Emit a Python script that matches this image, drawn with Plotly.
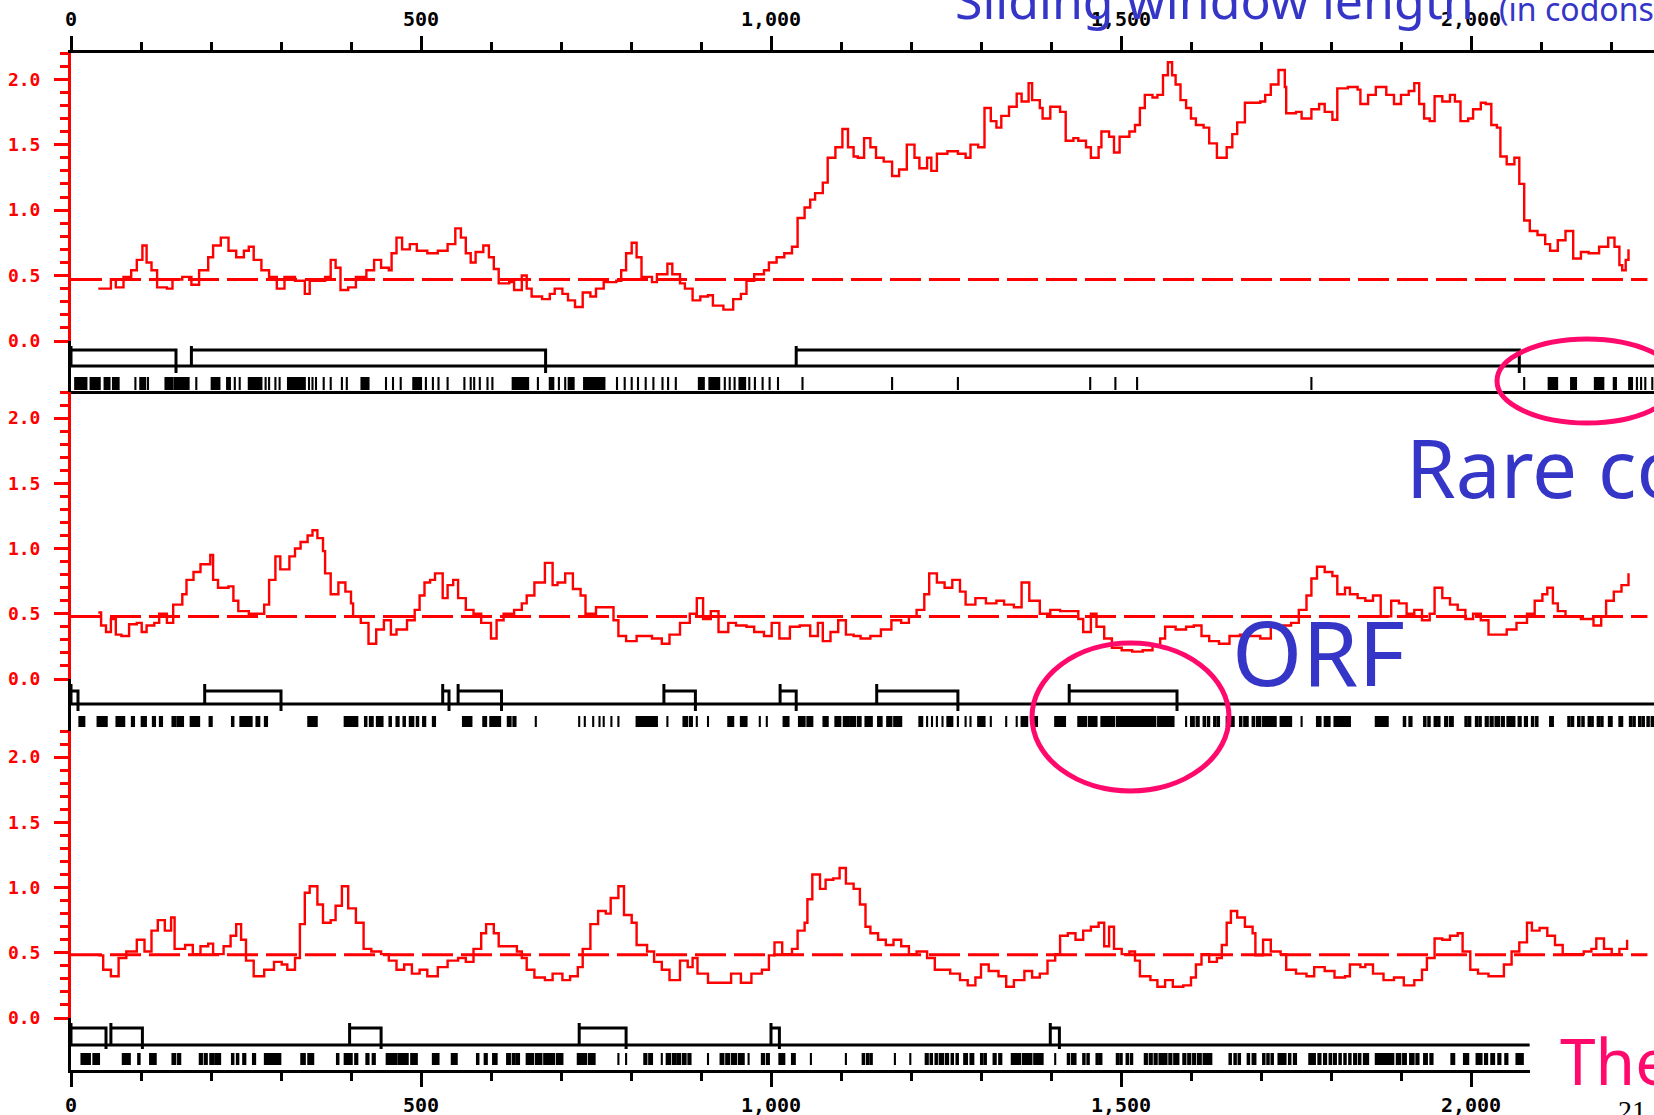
import plotly.graph_objects as go

W, H = 1654, 1115

# ---------------------------------------------------------------
# Sliding-window rare-codon profiles (codon position, value)
# ---------------------------------------------------------------
p1_pos = [39, 57, 64, 75, 86, 94, 102, 108, 115, 123, 137, 145, 159, 172, 183, 196, 203, 214, 225, 236,
          247, 254, 261, 272, 283, 294, 305, 320, 334, 341, 363, 371, 378, 385, 396, 407, 422, 433, 443, 454,
          458, 465, 473, 484, 494, 509, 524, 538, 549, 557, 564, 571, 578, 589, 597, 604, 611, 626, 633, 644,
          651, 658, 673, 684, 691, 702, 710, 720, 731, 742, 750, 761, 779, 786, 793, 801, 808, 815, 830, 837,
          852, 859, 870, 877, 888, 899, 910, 917, 932, 946, 957, 965, 976, 990, 997, 1008, 1019, 1030, 1038, 1048,
          1056, 1063, 1074, 1081, 1092, 1102, 1110, 1118, 1124, 1133, 1142, 1150, 1161, 1173, 1183, 1194, 1205, 1212, 1223, 1229,
          1237, 1252, 1267, 1278, 1285, 1296, 1305, 1314, 1322, 1329, 1340, 1351, 1358, 1368, 1373, 1384, 1388, 1399, 1413, 1421,
          1432, 1439, 1450, 1457, 1468, 1472, 1483, 1490, 1498, 1512, 1520, 1527, 1534, 1545, 1552, 1560, 1567, 1573, 1578, 1585,
          1593, 1600, 1607, 1618, 1626, 1637, 1651, 1659, 1666, 1677, 1699, 1706, 1714, 1725, 1734, 1736, 1750, 1758, 1772, 1783,
          1791, 1802, 1809, 1824, 1838, 1842, 1853, 1864, 1879, 1890, 1900, 1911, 1919, 1926, 1933, 1941, 1948, 1959, 1970, 1977,
          1985, 1996, 2003, 2014, 2021, 2029, 2037, 2042, 2051, 2062, 2069, 2076, 2084, 2095, 2106, 2113, 2124, 2135, 2146, 2157,
          2168, 2183, 2196, 2205, 2212, 2216, 2221, 2225]
p1_val = [0.40, 0.47, 0.41, 0.49, 0.54, 0.62, 0.73, 0.60, 0.54, 0.41, 0.40, 0.47, 0.49, 0.43, 0.54, 0.64, 0.73, 0.79, 0.69, 0.64,
          0.69, 0.72, 0.62, 0.54, 0.49, 0.40, 0.49, 0.46, 0.36, 0.46, 0.49, 0.62, 0.56, 0.39, 0.41, 0.49, 0.54, 0.62, 0.56, 0.54,
          0.67, 0.79, 0.70, 0.74, 0.69, 0.67, 0.69, 0.74, 0.86, 0.79, 0.67, 0.60, 0.68, 0.73, 0.64, 0.55, 0.44, 0.45, 0.39, 0.50,
          0.40, 0.34, 0.32, 0.36, 0.40, 0.36, 0.31, 0.26, 0.37, 0.34, 0.40, 0.45, 0.46, 0.54, 0.67, 0.75, 0.64, 0.49, 0.45, 0.51,
          0.59, 0.51, 0.44, 0.40, 0.31, 0.34, 0.35, 0.27, 0.24, 0.32, 0.36, 0.46, 0.51, 0.54, 0.60, 0.64, 0.67, 0.72, 0.94, 1.02,
          1.08, 1.13, 1.21, 1.40, 1.48, 1.62, 1.48, 1.41, 1.40, 1.55, 1.48, 1.40, 1.37, 1.26, 1.31, 1.50, 1.40, 1.32, 1.40, 1.30,
          1.43, 1.45, 1.43, 1.40, 1.50, 1.48, 1.78, 1.68, 1.63, 1.72, 1.79, 1.89, 1.83, 1.97, 1.84, 1.78, 1.70, 1.79, 1.75, 1.53,
          1.55, 1.53, 1.48, 1.40, 1.48, 1.60, 1.56, 1.44, 1.56, 1.60, 1.65, 1.78, 1.88, 1.86, 1.88, 2.03, 2.13, 2.03, 1.96, 1.84,
          1.78, 1.70, 1.65, 1.63, 1.51, 1.40, 1.48, 1.58, 1.67, 1.82, 1.83, 1.88, 1.96, 2.07, 1.94, 1.74, 1.75, 1.70, 1.77, 1.81,
          1.75, 1.69, 1.93, 1.94, 1.92, 1.81, 1.88, 1.94, 1.88, 1.81, 1.88, 1.91, 1.97, 1.81, 1.70, 1.68, 1.87, 1.83, 1.88, 1.83,
          1.68, 1.70, 1.77, 1.82, 1.81, 1.65, 1.63, 1.41, 1.35, 1.40, 1.20, 0.92, 0.84, 0.81, 0.74, 0.69, 0.77, 0.84, 0.63, 0.68,
          0.67, 0.72, 0.79, 0.72, 0.58, 0.54, 0.62, 0.70]

p2_pos = [39, 43, 50, 57, 64, 72, 83, 94, 101, 108, 119, 126, 137, 146, 159, 165, 175, 185, 199, 203,
          210, 225, 232, 239, 254, 269, 276, 283, 292, 299, 312, 320, 328, 338, 345, 352, 360, 363, 371, 382,
          392, 400, 403, 414, 425, 436, 447, 457, 465, 480, 491, 498, 505, 513, 520, 531, 538, 546, 553, 564,
          575, 586, 600, 608, 618, 633, 644, 651, 662, 677, 688, 695, 706, 717, 728, 735, 750, 764, 775, 782,
          793, 808, 830, 844, 855, 870, 884, 894, 903, 914, 925, 939, 950, 965, 976, 990, 1001, 1012, 1027, 1041,
          1056, 1067, 1074, 1085, 1096, 1107, 1118, 1128, 1142, 1157, 1172, 1186, 1197, 1208, 1219, 1226, 1237, 1248, 1259, 1270,
          1278, 1292, 1307, 1322, 1333, 1347, 1358, 1369, 1384, 1399, 1413, 1428, 1439, 1446, 1457, 1465, 1476, 1487, 1501, 1516,
          1531, 1545, 1556, 1563, 1578, 1593, 1604, 1615, 1626, 1640, 1655, 1670, 1684, 1699, 1714, 1732, 1743, 1754, 1765, 1772,
          1780, 1791, 1802, 1809, 1820, 1827, 1838, 1849, 1860, 1871, 1886, 1897, 1908, 1919, 1930, 1941, 1948, 1959, 1970, 1981,
          1992, 2003, 2014, 2025, 2040, 2051, 2065, 2080, 2091, 2102, 2109, 2117, 2124, 2135, 2146, 2157, 2168, 2175, 2186, 2193,
          2204, 2215, 2225]
p2_val = [0.51, 0.41, 0.36, 0.46, 0.34, 0.33, 0.42, 0.43, 0.36, 0.41, 0.43, 0.50, 0.43, 0.57, 0.65, 0.76, 0.82, 0.88, 0.95, 0.76,
          0.70, 0.71, 0.60, 0.52, 0.50, 0.50, 0.57, 0.76, 0.94, 0.84, 0.94, 1.00, 1.05, 1.10, 1.14, 1.08, 0.98, 0.81, 0.65, 0.74,
          0.67, 0.58, 0.48, 0.43, 0.27, 0.38, 0.45, 0.34, 0.38, 0.45, 0.53, 0.64, 0.74, 0.76, 0.81, 0.62, 0.72, 0.76, 0.62, 0.53,
          0.50, 0.43, 0.31, 0.45, 0.50, 0.53, 0.58, 0.64, 0.74, 0.89, 0.72, 0.74, 0.81, 0.69, 0.64, 0.50, 0.55, 0.55, 0.45, 0.33,
          0.29, 0.33, 0.31, 0.27, 0.34, 0.43, 0.50, 0.62, 0.46, 0.52, 0.36, 0.43, 0.41, 0.40, 0.36, 0.33, 0.43, 0.31, 0.40, 0.41,
          0.33, 0.43, 0.29, 0.36, 0.45, 0.34, 0.33, 0.31, 0.33, 0.38, 0.45, 0.43, 0.48, 0.53, 0.65, 0.81, 0.74, 0.70, 0.76, 0.67,
          0.57, 0.62, 0.58, 0.60, 0.57, 0.55, 0.74, 0.60, 0.50, 0.53, 0.52, 0.52, 0.46, 0.36, 0.50, 0.40, 0.31, 0.24, 0.22, 0.21,
          0.22, 0.26, 0.31, 0.40, 0.38, 0.40, 0.41, 0.33, 0.29, 0.27, 0.33, 0.34, 0.33, 0.31, 0.40, 0.41, 0.43, 0.53, 0.64, 0.77,
          0.86, 0.82, 0.79, 0.65, 0.70, 0.65, 0.62, 0.60, 0.64, 0.48, 0.60, 0.58, 0.50, 0.53, 0.45, 0.50, 0.70, 0.62, 0.57, 0.53,
          0.46, 0.50, 0.45, 0.34, 0.34, 0.38, 0.43, 0.50, 0.60, 0.65, 0.70, 0.58, 0.52, 0.48, 0.48, 0.46, 0.46, 0.41, 0.48, 0.60,
          0.67, 0.72, 0.81]

p3_pos = [39, 46, 57, 68, 79, 94, 105, 115, 124, 134, 143, 148, 163, 174, 185, 196, 203, 218, 228, 236,
          243, 250, 261, 276, 290, 301, 309, 320, 327, 334, 341, 352, 360, 371, 378, 387, 396, 407, 418, 429,
          443, 454, 465, 476, 487, 498, 509, 524, 538, 553, 564, 575, 586, 593, 604, 611, 626, 637, 644, 651,
          662, 677, 688, 702, 713, 724, 731, 742, 753, 764, 771, 782, 790, 801, 808, 823, 833, 844, 855, 870,
          881, 888, 895, 910, 928, 943, 957, 972, 987, 997, 1005, 1016, 1030, 1038, 1048, 1052, 1059, 1070, 1078, 1089,
          1098, 1107, 1118, 1127, 1135, 1142, 1153, 1164, 1175, 1186, 1197, 1208, 1223, 1234, 1245, 1256, 1270, 1281, 1292, 1300,
          1311, 1325, 1336, 1347, 1362, 1373, 1384, 1395, 1406, 1413, 1424, 1435, 1446, 1457, 1468, 1476, 1483, 1490, 1501, 1512,
          1520, 1527, 1542, 1552, 1563, 1574, 1589, 1600, 1607, 1615, 1626, 1637, 1644, 1651, 1657, 1666, 1677, 1688, 1692, 1703,
          1714, 1728, 1736, 1750, 1765, 1776, 1791, 1805, 1820, 1827, 1842, 1849, 1860, 1875, 1890, 1904, 1919, 1930, 1937, 1948,
          1959, 1970, 1981, 1988, 1999, 2010, 2025, 2040, 2047, 2058, 2069, 2080, 2087, 2098, 2109, 2120, 2131, 2146, 2161, 2172,
          2179, 2190, 2201, 2212, 2223]
p3_val = [0.48, 0.37, 0.32, 0.46, 0.51, 0.60, 0.51, 0.67, 0.75, 0.67, 0.77, 0.53, 0.56, 0.49, 0.55, 0.57, 0.49, 0.55, 0.63, 0.72,
          0.60, 0.44, 0.32, 0.37, 0.43, 0.41, 0.37, 0.46, 0.72, 0.96, 1.01, 0.87, 0.73, 0.75, 0.86, 1.01, 0.84, 0.73, 0.53, 0.51,
          0.49, 0.44, 0.37, 0.41, 0.34, 0.37, 0.32, 0.39, 0.44, 0.46, 0.43, 0.53, 0.65, 0.72, 0.65, 0.55, 0.55, 0.51, 0.46, 0.37,
          0.31, 0.29, 0.34, 0.29, 0.32, 0.39, 0.53, 0.72, 0.82, 0.80, 0.92, 1.01, 0.79, 0.73, 0.56, 0.51, 0.43, 0.37, 0.29, 0.44,
          0.39, 0.46, 0.34, 0.27, 0.27, 0.34, 0.27, 0.34, 0.37, 0.48, 0.58, 0.49, 0.53, 0.67, 0.73, 0.91, 1.10, 0.99, 1.06, 1.07,
          1.15, 1.03, 0.99, 0.87, 0.70, 0.65, 0.60, 0.56, 0.60, 0.55, 0.49, 0.51, 0.46, 0.37, 0.37, 0.34, 0.29, 0.25, 0.31, 0.41,
          0.36, 0.32, 0.24, 0.29, 0.36, 0.31, 0.34, 0.44, 0.49, 0.63, 0.65, 0.60, 0.67, 0.70, 0.73, 0.55, 0.70, 0.53, 0.49, 0.51,
          0.44, 0.32, 0.29, 0.24, 0.29, 0.24, 0.25, 0.31, 0.41, 0.49, 0.43, 0.46, 0.56, 0.73, 0.82, 0.77, 0.70, 0.65, 0.48, 0.60,
          0.51, 0.49, 0.37, 0.34, 0.32, 0.39, 0.36, 0.31, 0.32, 0.41, 0.39, 0.41, 0.34, 0.29, 0.31, 0.25, 0.29, 0.37, 0.46, 0.61,
          0.60, 0.63, 0.65, 0.51, 0.37, 0.34, 0.32, 0.32, 0.41, 0.51, 0.58, 0.73, 0.67, 0.69, 0.63, 0.56, 0.49, 0.49, 0.51, 0.53,
          0.61, 0.53, 0.49, 0.53, 0.60]

# genome-wide mean used as the dashed reference in each panel
mean_levels = [0.47, 0.48, 0.485]

# ---------------------------------------------------------------
# ORFs (start codon, end codon) for each sequence
# ---------------------------------------------------------------
orf1 = [(0, 150), (172, 678), (1036, 2069)]
orf2 = [(0, 10), (191, 300), (531, 540), (553, 615), (847, 892), (1013, 1036), (1151, 1267), (1426, 1580)]
orf3 = [(0, 50), (57, 102), (398, 443), (726, 793), (1000, 1012), (1399, 1412)]

# ---------------------------------------------------------------
# Rare-codon positions (first, last codon of each run)
# ---------------------------------------------------------------
rare1 = [(6, 22), (28, 41), (48, 55), (60, 68), (92, 92), (99, 106), (110, 110), (135, 145), (148, 168), (179, 179),
         (201, 212), (223, 227), (234, 234), (241, 241), (254, 272), (278, 278), (283, 283), (292, 292), (298, 298),
         (310, 334), (340, 340), (345, 345), (350, 350), (361, 361), (371, 371), (387, 387), (394, 394), (415, 425),
         (450, 450), (460, 460), (471, 471), (489, 500), (507, 507), (517, 517), (525, 525), (538, 538), (562, 562),
         (571, 571), (576, 576), (584, 584), (595, 595), (602, 602), (631, 653), (667, 667), (684, 689), (697, 697),
         (706, 706), (711, 718), (733, 762), (780, 780), (791, 791), (801, 801), (810, 810), (821, 821), (832, 832),
         (845, 845), (853, 853), (864, 864), (897, 904), (912, 926), (934, 934), (941, 941), (948, 948), (955, 963),
         (969, 969), (977, 977), (988, 988), (998, 998), (1010, 1010), (1045, 1045), (1173, 1173), (1267, 1267),
         (1456, 1456), (1492, 1492), (1523, 1523), (1772, 1772), (2076, 2076), (2111, 2123), (2143, 2150),
         (2177, 2189), (2204, 2207), (2226, 2230), (2237, 2237), (2243, 2243), (2249, 2249), (2259, 2259)]

rare2 = [(12, 19), (38, 51), (65, 76), (87, 90), (101, 107), (117, 120), (127, 130), (145, 149), (152, 160), (171, 183),
         (198, 201), (230, 232), (242, 258), (265, 269), (277, 280), (339, 351), (391, 409), (420, 422), (427, 431),
         (437, 445), (455, 457), (465, 468), (475, 477), (484, 489), (494, 496), (503, 506), (517, 520), (560, 572),
         (589, 593), (599, 613), (624, 628), (632, 635), (664, 664), (726, 726), (734, 734), (746, 746), (755, 755),
         (761, 761), (772, 772), (782, 782), (808, 837), (852, 852), (875, 880), (884, 887), (894, 894), (910, 910),
         (939, 946), (957, 965), (984, 984), (994, 994), (1018, 1025), (1040, 1048), (1052, 1059), (1075, 1081),
         (1092, 1099), (1104, 1110), (1113, 1120), (1124, 1128), (1135, 1144), (1153, 1158), (1166, 1172), (1176, 1186),
         (1212, 1216), (1223, 1223), (1230, 1230), (1237, 1237), (1245, 1245), (1252, 1259), (1267, 1267), (1278, 1278),
         (1285, 1285), (1296, 1305), (1314, 1314), (1336, 1336), (1351, 1351), (1358, 1366), (1373, 1380), (1406, 1420),
         (1439, 1450), (1454, 1465), (1472, 1490), (1494, 1549), (1553, 1575), (1593, 1593), (1600, 1604), (1608, 1611),
         (1618, 1620), (1624, 1626), (1633, 1635), (1638, 1640), (1651, 1653), (1657, 1661), (1670, 1672), (1676, 1681),
         (1688, 1690), (1694, 1699), (1703, 1721), (1728, 1743), (1758, 1758), (1780, 1785), (1791, 1798), (1805, 1827),
         (1864, 1881), (1904, 1906), (1912, 1915), (1933, 1935), (1939, 1941), (1948, 1950), (1953, 1955), (1963, 1966),
         (1970, 1974), (1992, 1994), (1997, 1999), (2007, 2009), (2012, 2014), (2021, 2024), (2028, 2031), (2035, 2040),
         (2044, 2047), (2052, 2062), (2068, 2071), (2077, 2080), (2087, 2089), (2093, 2095), (2113, 2117), (2139, 2141),
         (2144, 2146), (2153, 2155), (2159, 2161), (2168, 2170), (2173, 2174), (2181, 2183), (2186, 2188), (2197, 2201),
         (2212, 2216), (2227, 2229), (2232, 2234), (2240, 2242), (2245, 2247), (2252, 2254), (2258, 2261)]

rare3 = [(15, 27), (32, 40), (74, 84), (96, 98), (113, 121), (145, 149), (153, 156), (184, 187), (191, 194), (199, 203),
         (206, 213), (230, 232), (237, 239), (246, 249), (260, 263), (277, 299), (329, 334), (339, 346), (380, 382),
         (391, 401), (406, 409), (422, 425), (431, 434), (451, 465), (468, 481), (486, 494), (517, 525), (544, 551),
         (580, 582), (591, 594), (603, 608), (623, 627), (631, 634), (637, 640), (651, 660), (664, 672), (676, 690),
         (694, 702), (724, 736), (740, 748), (782, 782), (793, 793), (819, 822), (826, 830), (844, 844), (851, 856),
         (860, 864), (867, 870), (874, 878), (882, 885), (910, 910), (928, 932), (936, 940), (944, 950), (954, 961),
         (968, 968), (987, 990), (994, 997), (1012, 1015), (1017, 1019), (1030, 1034), (1057, 1057), (1107, 1107),
         (1131, 1133), (1137, 1139), (1142, 1144), (1177, 1177), (1199, 1199), (1221, 1224), (1228, 1230), (1235, 1237),
         (1241, 1246), (1250, 1253), (1258, 1260), (1265, 1267), (1276, 1280), (1285, 1289), (1300, 1302), (1305, 1307),
         (1318, 1321), (1326, 1329), (1344, 1356), (1360, 1372), (1376, 1388), (1406, 1406), (1424, 1426), (1430, 1435),
         (1446, 1448), (1452, 1454), (1465, 1467), (1470, 1472), (1494, 1496), (1499, 1501), (1508, 1510), (1514, 1516),
         (1534, 1537), (1541, 1544), (1548, 1551), (1555, 1565), (1569, 1572), (1576, 1582), (1589, 1592), (1596, 1599),
         (1603, 1606), (1610, 1614), (1618, 1629), (1655, 1657), (1662, 1664), (1668, 1670), (1681, 1683), (1688, 1692),
         (1703, 1705), (1709, 1711), (1715, 1717), (1725, 1735), (1740, 1742), (1747, 1750), (1769, 1777), (1782, 1785),
         (1790, 1793), (1798, 1800), (1804, 1807), (1812, 1814), (1819, 1821), (1826, 1828), (1833, 1836), (1840, 1842),
         (1847, 1853), (1864, 1883), (1885, 1889), (1894, 1899), (1903, 1907), (1913, 1918), (1922, 1925), (1933, 1937),
         (1942, 1945), (1972, 1976), (1990, 1996), (2008, 2015), (2020, 2023), (2029, 2033), (2039, 2042), (2049, 2052),
         (2065, 2074)]

# sequence lengths (codons) covered by each ORF/codon strip
strip_length = [2262, 2262, 2084]

profiles = [(p1_pos, p1_val), (p2_pos, p2_val), (p3_pos, p3_val)]
orfs = [orf1, orf2, orf3]
rares = [rare1, rare2, rare3]

# ---------------------------------------------------------------
# Geometry (pixels)
# ---------------------------------------------------------------
X0 = 71                 # left edge of all plotting areas
PX_PER_CODON = 0.7
X_MAX = (W - X0) / PX_PER_CODON

# (top of profile, zero line of profile, bottom of strip)
rows = [(53, 341, 391), (392, 679, 732), (731, 1018, 1070)]
# levels inside each strip (pixels above strip bottom)
strip_levels = [
    dict(base=25, top=41, above=45, below=18, lo=1, hi=14),
    dict(base=28, top=41, above=48, below=21, lo=5, hi=16),
    dict(base=25, top=42, above=47, below=21, lo=5, hi=17),
]

RED = "#FF0000"
BLUE = "#3535C8"
PINK = "#FF0A6C"
TICK_FONT = dict(family="DejaVu Sans Mono", size=20, color="black", weight="bold")


def fx(px):
    return px / W


def fy(py):
    return 1 - py / H


def axis_key(name):
    letter, num = name[0], name[1:]
    return f"{letter}axis{num}"


fig = go.Figure()
layout_axes = {}

for i in range(3):
    top, zero, bottom = rows[i]
    lv = strip_levels[i]
    pos, val = profiles[i]
    xa_main, ya_main = ("x", "y") if i == 0 else (f"x{2*i+1}", f"y{2*i+1}")
    xa_band, ya_band = f"x{2*i+2}", f"y{2*i+2}"
    band_h = bottom - zero
    strip_end = strip_length[i]

    # profile curve
    fig.add_trace(go.Scatter(x=pos, y=val, mode="lines", line=dict(color=RED, width=2.4, shape="hv"),
                             xaxis=xa_main, yaxis=ya_main, hoverinfo="skip"))
    # mean reference line
    fig.add_trace(go.Scatter(x=[0, 2252], y=[mean_levels[i]] * 2, mode="lines",
                             line=dict(color=RED, width=3, dash="31px,8px"),
                             xaxis=xa_main, yaxis=ya_main, hoverinfo="skip"))

    # ORF baseline
    fig.add_trace(go.Scatter(x=[0, strip_end], y=[lv["base"]] * 2, mode="lines",
                             line=dict(color="black", width=3), xaxis=xa_band, yaxis=ya_band,
                             hoverinfo="skip"))
    # ORF brackets
    bx, by = [], []
    for s, e in orfs[i]:
        bx += [s, s, None, s, e, e, None]
        by += [lv["base"], lv["above"], None, lv["top"], lv["top"], lv["below"], None]
    fig.add_trace(go.Scatter(x=bx, y=by, mode="lines", line=dict(color="black", width=3),
                             xaxis=xa_band, yaxis=ya_band, hoverinfo="skip"))
    # rare codon ticks
    centers = [(a + b) / 2 for a, b in rares[i]]
    widths = [(b - a) + 3 for a, b in rares[i]]
    fig.add_trace(go.Bar(x=centers, y=[lv["hi"] - lv["lo"]] * len(centers), base=lv["lo"],
                         width=widths, marker=dict(color="black", line=dict(width=0)),
                         xaxis=xa_band, yaxis=ya_band, hoverinfo="skip"))

    # axes
    if i == 0:
        layout_axes[axis_key(xa_main)] = dict(
            domain=[fx(X0), 1], range=[0, X_MAX], anchor=ya_main, side="top", automargin=False,
            showline=True, linecolor="black", linewidth=3, ticks="outside", ticklen=14,
            tickwidth=3, tickcolor="black", dtick=500, tick0=0, tickformat=",d",
            tickfont=TICK_FONT, ticklabelstandoff=2,
            minor=dict(dtick=100, tick0=0, ticks="outside", ticklen=8, tickwidth=3, tickcolor="black"),
            showgrid=False, zeroline=False)
    else:
        layout_axes[axis_key(xa_main)] = dict(domain=[fx(X0), 1], range=[0, X_MAX], anchor=ya_main,
                                              visible=False, automargin=False)
    layout_axes[axis_key(ya_main)] = dict(
        domain=[fy(zero), fy(top)], range=[0, 2.2001], anchor=xa_main, automargin=False,
        showline=True, linecolor=RED, linewidth=3, ticks="outside", ticklen=14, tickwidth=3,
        tickcolor=RED, dtick=0.5, tick0=0, tickformat=".1f",
        tickfont=dict(family="DejaVu Sans Mono", size=18, color=RED, weight="bold"),
        ticklabelstandoff=10,
        minor=dict(dtick=0.1, tick0=0, ticks="outside", ticklen=8, tickwidth=3, tickcolor=RED),
        showgrid=False, zeroline=False)

    if i < 2:
        layout_axes[axis_key(xa_band)] = dict(
            domain=[fx(X0), 1], range=[0, X_MAX], anchor=ya_band, showline=True, automargin=False,
            linecolor="black", linewidth=3, ticks="", showticklabels=False,
            showgrid=False, zeroline=False)
    else:
        band_right = X0 + strip_end * PX_PER_CODON
        layout_axes[axis_key(xa_band)] = dict(
            domain=[fx(X0), fx(band_right)], range=[0, strip_end], anchor=ya_band, automargin=False,
            showline=True, linecolor="black", linewidth=3, ticks="outside", ticklen=14,
            tickwidth=3, tickcolor="black", dtick=500, tick0=0, tickformat=",d",
            tickfont=TICK_FONT, ticklabelstandoff=1,
            minor=dict(dtick=100, tick0=0, ticks="outside", ticklen=8, tickwidth=3, tickcolor="black"),
            showgrid=False, zeroline=False)
    layout_axes[axis_key(ya_band)] = dict(
        domain=[fy(bottom), fy(zero)], range=[0, band_h], anchor=xa_band, automargin=False,
        showline=True, linecolor="black", linewidth=3, ticks="", showticklabels=False,
        showgrid=False, zeroline=False)

fig.update_layout(**layout_axes)

# slide annotations
hand = "Noto Sans"
fig.add_annotation(x=fx(953), y=fy(36), xref="paper", yref="paper", xanchor="left", yanchor="bottom",
                   text="Sliding window length", showarrow=False,
                   font=dict(family=hand, size=50, color=BLUE))
fig.add_annotation(x=fx(1497), y=fy(32), xref="paper", yref="paper", xanchor="left", yanchor="bottom",
                   text="(in codons)", showarrow=False,
                   font=dict(family=hand, size=32, color=BLUE))
fig.add_annotation(x=fx(1404), y=fy(523), xref="paper", yref="paper", xanchor="left", yanchor="bottom",
                   text="Rare codons", showarrow=False, font=dict(family=hand, size=80, color=BLUE))
fig.add_annotation(x=fx(1230), y=fy(714), xref="paper", yref="paper", xanchor="left", yanchor="bottom",
                   text="ORF", showarrow=False, font=dict(family=hand, size=90, color=BLUE))
fig.add_annotation(x=fx(1558), y=fy(1106), xref="paper", yref="paper", xanchor="left", yanchor="bottom",
                   text="The", showarrow=False, font=dict(family=hand, size=64, color=PINK))
fig.add_annotation(x=fx(1616), y=fy(1093), xref="paper", yref="paper", xanchor="left", yanchor="top",
                   text="21", showarrow=False, font=dict(family="Liberation Serif", size=28, color="black"))

# highlight ellipses
fig.add_shape(type="circle", xref="paper", yref="paper", x0=fx(1497), x1=fx(1677), y0=fy(423), y1=fy(339),
              line=dict(color=PINK, width=5))
fig.add_shape(type="circle", xref="paper", yref="paper", x0=fx(1032), x1=fx(1229), y0=fy(791), y1=fy(643),
              line=dict(color=PINK, width=5))

fig.update_layout(width=W, height=H, margin=dict(l=0, r=0, t=0, b=0, pad=0, autoexpand=False),
                  paper_bgcolor="white", plot_bgcolor="white", showlegend=False,
                  barmode="overlay", hovermode=False)

fig.write_html("out.html")
